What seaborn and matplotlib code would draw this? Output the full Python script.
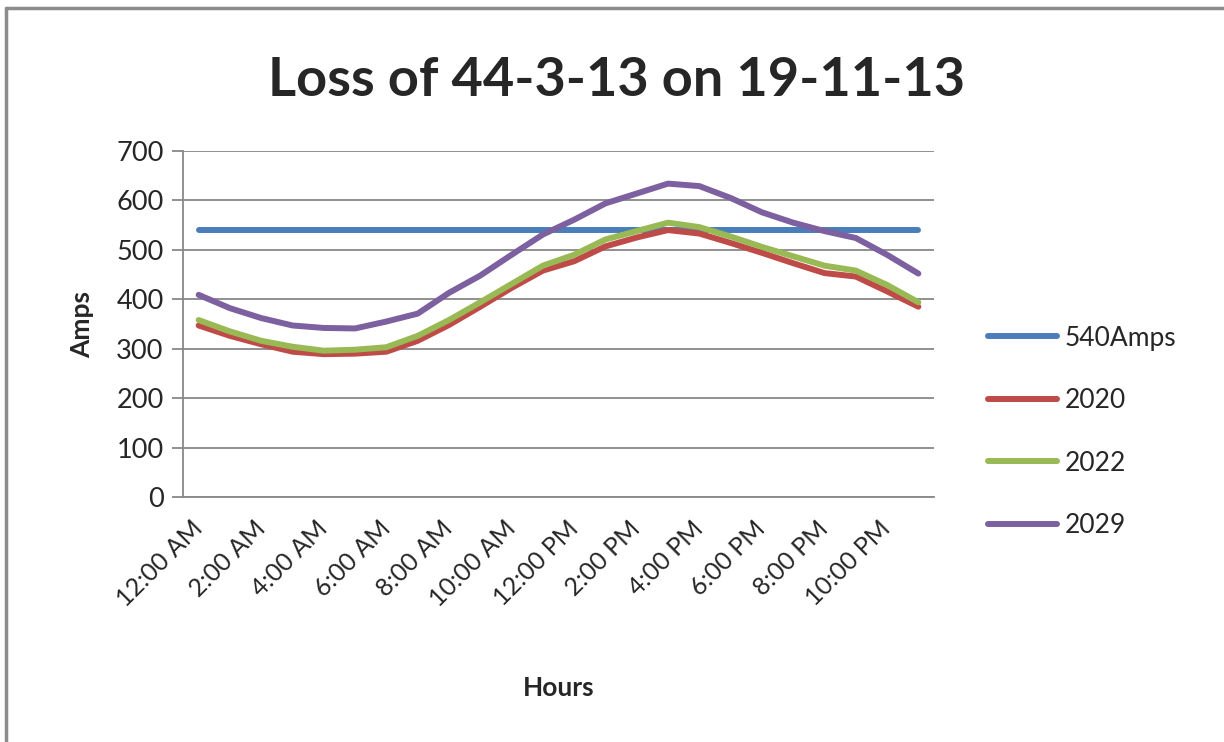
import numpy as np
import pandas as pd
import matplotlib.pyplot as plt
import seaborn as sns
from matplotlib.lines import Line2D

# hourly load, 12 AM .. 11 PM
hours = ["12:00 AM", "1:00 AM", "2:00 AM", "3:00 AM", "4:00 AM", "5:00 AM",
         "6:00 AM", "7:00 AM", "8:00 AM", "9:00 AM", "10:00 AM", "11:00 AM",
         "12:00 PM", "1:00 PM", "2:00 PM", "3:00 PM", "4:00 PM", "5:00 PM",
         "6:00 PM", "7:00 PM", "8:00 PM", "9:00 PM", "10:00 PM", "11:00 PM"]
limit_540 = [540] * 24
y2020 = [347, 326, 309, 294, 289, 290, 294, 316, 348, 385, 423, 458,
         477, 507, 525, 540, 533, 514, 494, 473, 453, 446, 416, 385]
y2022 = [358, 335, 316, 304, 296, 298, 303, 326, 358, 394, 431, 468,
         490, 521, 538, 555, 546, 527, 506, 487, 468, 458, 429, 394]
y2029 = [409, 382, 362, 347, 342, 341, 355, 371, 413, 448, 490, 531,
         561, 594, 614, 634, 629, 605, 576, 555, 538, 524, 490, 452]

series = ["540Amps", "2020", "2022", "2029"]
colors = ["#4A7EBB", "#BE4B48", "#98B954", "#7D60A0"]

df = pd.DataFrame({
    "idx": list(range(24)) * 4,
    "Amps": limit_540 + y2020 + y2022 + y2029,
    "series": [s for s in series for _ in range(24)],
})

sns.set_style("white")
plt.rcParams["font.family"] = ["Lato", "DejaVu Sans"]

fig = plt.figure(figsize=(12.24, 7.42), dpi=100)
ax = fig.add_axes([183 / 1224, 1 - 497 / 742, (934 - 183) / 1224, (497 - 151) / 742])

sns.lineplot(data=df, x="idx", y="Amps", hue="series", palette=colors,
             hue_order=series, linewidth=4.3, legend=False, ax=ax,
             solid_capstyle="round", solid_joinstyle="round")

grid_c = "#888888"
ax.set_xlim(-0.5, 23.5)
ax.set_ylim(0, 700)
ax.set_yticks(range(0, 701, 100))
ax.yaxis.grid(True, color=grid_c, linewidth=1.3)
ax.set_axisbelow(True)
for s in ["top", "right"]:
    ax.spines[s].set_visible(False)
for s in ["left", "bottom"]:
    ax.spines[s].set_color(grid_c)
    ax.spines[s].set_linewidth(1.3)

ax.set_xticks(range(0, 24, 2))
ax.set_xticklabels(hours[::2], rotation=45, ha="right", va="center",
                   rotation_mode="anchor")
ax.set_xticks(np.arange(-0.5, 24, 1), minor=True)
ax.tick_params(axis="x", which="major", length=0, pad=20, labelsize=18)
ax.tick_params(axis="x", which="minor", length=12, width=1.3, color=grid_c, direction="out")
ax.tick_params(axis="y", length=8, width=1.3, color=grid_c, labelsize=19.5, pad=6, left=True)

ax.set_xlabel("Hours", fontsize=19, fontweight="bold", labelpad=47)
ax.set_ylabel("Amps", fontsize=19, fontweight="bold", labelpad=16)

fig.suptitle("Loss of 44-3-13 on 19-11-13", x=0.504, y=0.925, fontsize=39,
             fontweight="bold")

handles = [Line2D([], [], color=c, linewidth=4.3, solid_capstyle="round") for c in colors]
fig.legend(handles, series, loc="center left", bbox_to_anchor=(0.788, 0.418),
           frameon=False, fontsize=19, handlelength=2.6, handletextpad=0.3,
           labelspacing=1.42)

# outer chart border (only top and left visible)
fig.add_artist(Line2D([6 / 1224, 1], [1 - 8 / 742, 1 - 8 / 742], color="#8c8c8c",
                      linewidth=2.5, transform=fig.transFigure))
fig.add_artist(Line2D([6 / 1224, 6 / 1224], [0, 1 - 8 / 742], color="#8c8c8c",
                      linewidth=2.5, transform=fig.transFigure))

fig.savefig("out.png", dpi=100)
